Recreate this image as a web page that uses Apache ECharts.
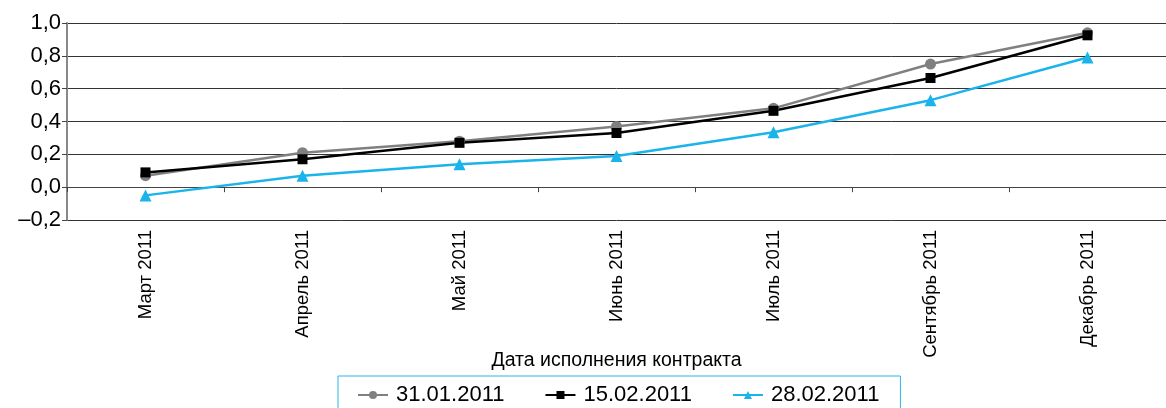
<!DOCTYPE html>
<html>
<head>
<meta charset="utf-8">
<script src="https://cdn.jsdelivr.net/npm/echarts@6/dist/echarts.min.js"></script>
<style>
  html, body { margin: 0; padding: 0; background: #fff; }
  #chart { width: 1166px; height: 408px; }
</style>
</head>
<body>
<div id="chart"></div>
<script>
const categories = ["Март 2011", "Апрель 2011", "Май 2011", "Июнь 2011", "Июль 2011", "Сентябрь 2011", "Декабрь 2011"];
const seriesNames = ["31.01.2011", "15.02.2011", "28.02.2011"];
const jan31 = [0.07, 0.21, 0.28, 0.37, 0.48, 0.75, 0.94];
const feb15 = [0.09, 0.17, 0.27, 0.33, 0.465, 0.665, 0.925];
const feb28 = [-0.05, 0.07, 0.14, 0.19, 0.335, 0.53, 0.79];

const font = "'Liberation Sans', Arial, sans-serif";
const chart = echarts.init(document.getElementById("chart"), null, { renderer: "canvas" });

const lineSeries = (name, data, color, symbol, size) => ({
  name,
  type: "line",
  data,
  symbol,
  symbolSize: size,
  color,
  lineStyle: { color, width: 2.5 },
  itemStyle: { color },
  animation: false,
});

chart.setOption({
  animation: false,
  textStyle: { fontFamily: font },
  grid: { left: 67, top: 23, width: 1106, height: 197, containLabel: false },
  legend: {
    left: 338,
    top: 376,
    data: seriesNames,
    itemWidth: 30,
    itemHeight: 10,
    itemGap: 40,
    padding: [8, 21, 7, 19],
    borderColor: "#29b6e8",
    borderWidth: 1,
    textStyle: { fontSize: 22, color: "#000", fontFamily: font, padding: [0, 0, 0, 3] },
  },
  xAxis: {
    type: "category",
    data: categories,
    boundaryGap: true,
    name: "Дата исполнения контракта",
    nameLocation: "middle",
    nameGap: 131,
    nameMoveOverlap: false,
    nameTextStyle: { fontSize: 19.5, color: "#000", fontFamily: font },
    axisLine: { lineStyle: { color: "#444", width: 1 } },
    axisTick: { show: true, length: 5, lineStyle: { color: "#444" } },
    axisLabel: { rotate: 90, fontSize: 18.5, color: "#000", margin: 10, fontFamily: font },
  },
  yAxis: {
    type: "value",
    min: -0.2,
    max: 1.0,
    interval: 0.2,
    axisLine: { show: true, lineStyle: { color: "#888", width: 2 } },
    axisTick: { show: true, length: 5, lineStyle: { color: "#444" } },
    splitLine: { lineStyle: { color: "#333", width: 1 } },
    axisLabel: {
      fontSize: 22,
      color: "#000",
      margin: 6,
      fontFamily: font,
      formatter: v => (v < 0 ? "\u2013" : "") + Math.abs(v).toFixed(1).replace(".", ","),
    },
  },
  series: [
    lineSeries(seriesNames[0], jan31, "#808080", "circle", 11),
    lineSeries(seriesNames[1], feb15, "#000000", "rect", 10),
    lineSeries(seriesNames[2], feb28, "#1ab4ea", "triangle", 12),
  ],
});
</script>
</body>
</html>
